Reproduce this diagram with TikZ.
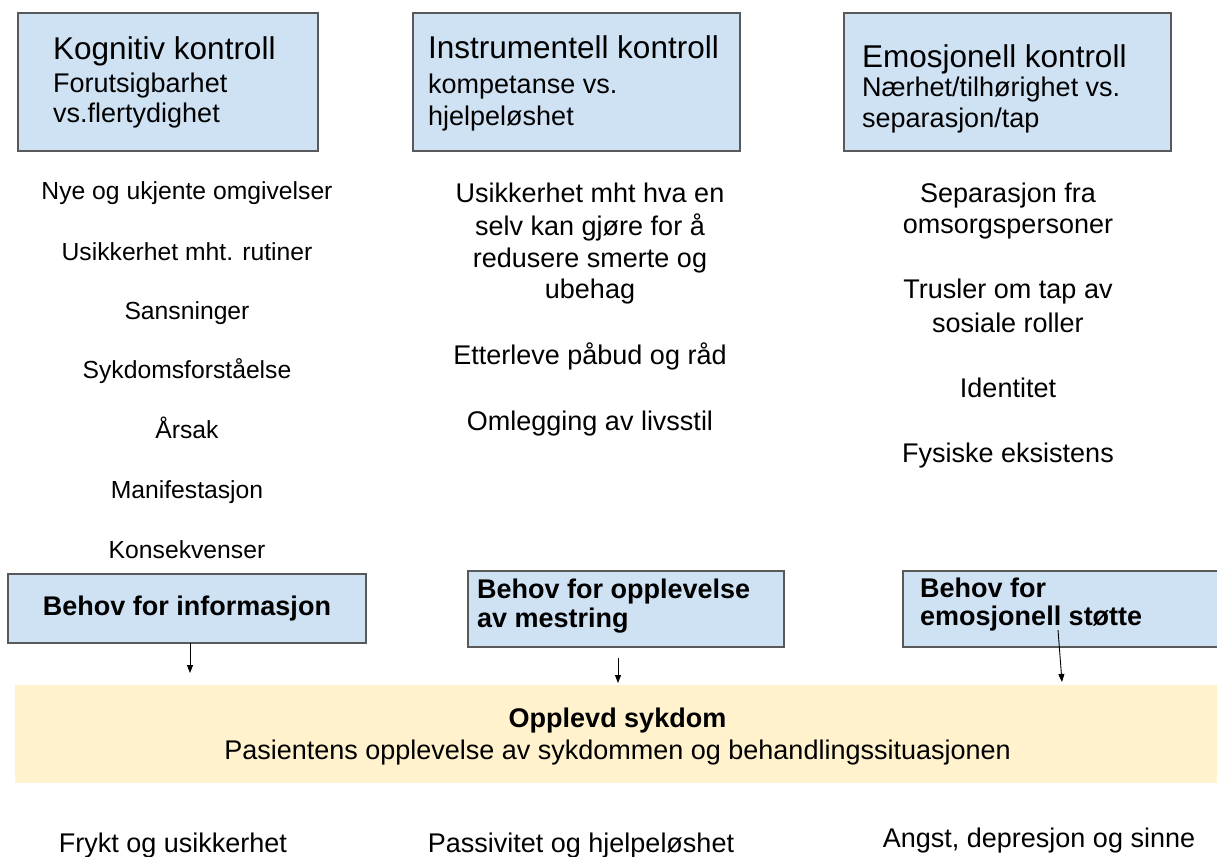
\documentclass[tikz,border=0pt]{standalone}
\usepackage{fontspec}
\setmainfont{Liberation Sans}
\usetikzlibrary{arrows.meta}
\definecolor{boxblue}{HTML}{CFE2F3}
\definecolor{bandyellow}{HTML}{FFF2CC}
\definecolor{boxline}{HTML}{595959}
\tikzset{
  topbox/.style={draw=boxline, line width=1.4pt, fill=boxblue, minimum height=138pt, inner sep=0pt},
  needbox/.style={draw=boxline, line width=1.4pt, fill=boxblue, inner sep=0pt},
  title/.style={anchor=base west, inner sep=0pt, font=\fontsize{31.5}{36}\selectfont},
  sub/.style={anchor=base west, inner sep=0pt, font=\fontsize{27}{32}\selectfont},
  lefttxt/.style={anchor=base, inner sep=0pt, font=\fontsize{24.7}{30}\selectfont},
  coltxt/.style={anchor=base, inner sep=0pt, font=\fontsize{27}{32}\selectfont},
  boldtxt/.style={anchor=base west, inner sep=0pt, font=\fontsize{27}{32}\selectfont\bfseries},
  arr/.style={-{Triangle[length=8pt,width=6pt]}, line width=0.9pt, black}
}
\begin{document}
\begin{tikzpicture}[x=1pt,y=-1pt]
\useasboundingbox (0,0) rectangle (1217,856);
% top boxes
\node[topbox, minimum width=300pt] (k) at (168,82) {};
\node[topbox, minimum width=327pt] (i) at (576.5,82) {};
\node[topbox, minimum width=327pt] (e) at (1007.5,82) {};
\node[title] (kt) at (53,60) {Kognitiv kontroll};
\node[sub] (k2) at (53,93) {Forutsigbarhet};
\node[sub] (k3) at (53,122) {vs.flertydighet};
\node[title] (it) at (428,59) {Instrumentell kontroll};
\node[sub] (i2) at (428,94) {kompetanse vs.};
\node[sub] (i3) at (428,125) {hjelpeløshet};
\node[title] (et) at (862,68) {Emosjonell kontroll};
\node[sub] (e2) at (862,97) {Nærhet/tilhørighet vs.};
\node[sub] (e3) at (862,128) {separasjon/tap};
% left column
\node[lefttxt] (l1) at (187,199) {Nye og ukjente omgivelser};
\node[lefttxt] (l2) at (187,260) {Usikkerhet mht. rutiner};
\node[lefttxt] (l3) at (187,319) {Sansninger};
\node[lefttxt] (l4) at (187,378) {Sykdomsforståelse};
\node[lefttxt] (l5) at (187,438) {Årsak};
\node[lefttxt] (l6) at (187,498) {Manifestasjon};
\node[lefttxt] (l7) at (187,558) {Konsekvenser};
% middle column
\node[coltxt] (m1) at (590,202) {Usikkerhet mht hva en};
\node[coltxt] (m2) at (590,235) {selv kan gjøre for å};
\node[coltxt] (m3) at (590,267) {redusere smerte og};
\node[coltxt] (m4) at (590,298) {ubehag};
\node[coltxt] (m5) at (590,364) {Etterleve påbud og råd};
\node[coltxt] (m6) at (590,430) {Omlegging av livsstil};
% right column
\node[coltxt] (r1) at (1008,202) {Separasjon fra};
\node[coltxt] (r2) at (1008,233) {omsorgspersoner};
\node[coltxt] (r3) at (1008,298) {Trusler om tap av};
\node[coltxt] (r4) at (1008,332) {sosiale roller};
\node[coltxt] (r5) at (1008,397) {Identitet};
\node[coltxt] (r6) at (1008,462) {Fysiske eksistens};
% need boxes
\node[needbox, minimum width=358pt, minimum height=69pt, font=\fontsize{27}{32}\selectfont\bfseries] (b1) at (187,608.5) {Behov for informasjon};
\node[needbox, minimum width=316pt, minimum height=76pt] (b2) at (626,609) {};
\node[boldtxt] (b2a) at (477,598) {Behov for opplevelse};
\node[boldtxt] (b2b) at (477,627) {av mestring};
\node[needbox, minimum width=320pt, minimum height=76pt] (b3) at (1063,609) {};
\node[boldtxt] (b3a) at (920,597) {Behov for};
\node[boldtxt] (b3b) at (920,625) {emosjonell støtte};
% band
\node[fill=bandyellow, minimum width=1210pt, minimum height=98pt, inner sep=0pt] (band) at (620,734) {};
\node[anchor=base, inner sep=0pt, font=\fontsize{27}{32}\selectfont\bfseries] (bt1) at (617.5,727) {Opplevd sykdom};
\node[anchor=base, inner sep=0pt, font=\fontsize{27}{32}\selectfont] (bt2) at (617.5,759) {Pasientens opplevelse av sykdommen og behandlingssituasjonen};
% arrows
\coordinate (a1s) at (190,643);
\coordinate (a1e) at (190,673);
\coordinate (a2s) at (618,658);
\coordinate (a2e) at (618,683);
\coordinate (a3s) at (1058,630);
\coordinate (a3e) at (1062,682);
\draw[arr] (a1s) -- (a1e);
\draw[arr] (a2s) -- (a2e);
\draw[arr] (a3s) -- (a3e);
% bottom texts
\node[coltxt] (o1) at (173,852) {Frykt og usikkerhet};
\node[coltxt] (o2) at (581,852) {Passivitet og hjelpeløshet};
\node[coltxt] (o3) at (1039,847) {Angst, depresjon og sinne};
\end{tikzpicture}
\end{document}
